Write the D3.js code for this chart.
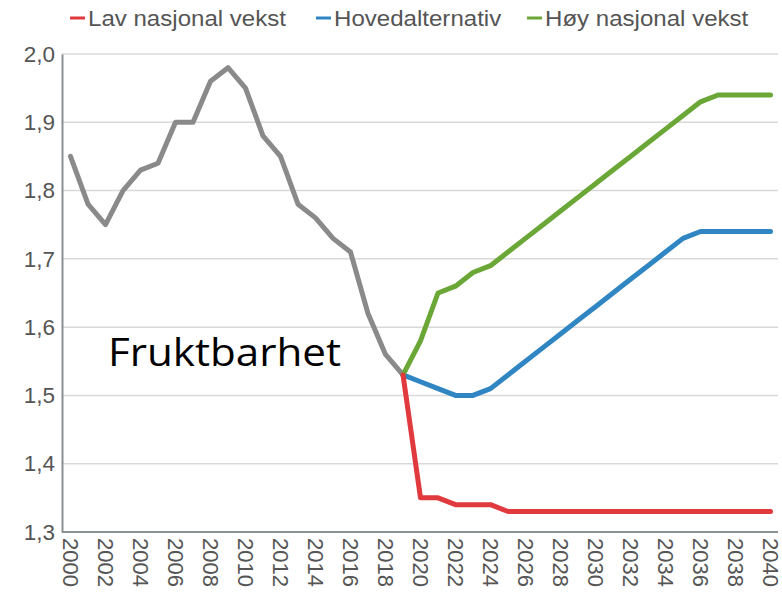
<!DOCTYPE html>
<html><head><meta charset="utf-8">
<script src="https://cdn.jsdelivr.net/npm/d3@7"></script>
<style>body{margin:0;background:#fff}svg{display:block}</style>
</head><body><svg id="c" width="782" height="592"></svg>
<script>
const histYears = d3.range(2000, 2020);
const histValues = [1.85,1.78,1.75,1.80,1.83,1.84,1.90,1.90,1.96,1.98,1.95,1.88,1.85,1.78,1.76,1.73,1.71,1.62,1.56,1.53];
const projYears = d3.range(2019, 2041);
const lowValues  = [1.53,1.35,1.35,1.34,1.34,1.34,1.33,1.33,1.33,1.33,1.33,1.33,1.33,1.33,1.33,1.33,1.33,1.33,1.33,1.33,1.33,1.33];
const mainValues = [1.53,1.52,1.51,1.50,1.50,1.51,1.53,1.55,1.57,1.59,1.61,1.63,1.65,1.67,1.69,1.71,1.73,1.74,1.74,1.74,1.74,1.74];
const highValues = [1.53,1.58,1.65,1.66,1.68,1.69,1.71,1.73,1.75,1.77,1.79,1.81,1.83,1.85,1.87,1.89,1.91,1.93,1.94,1.94,1.94,1.94];
const seriesNames = ["Lav nasjonal vekst","Hovedalternativ","Høy nasjonal vekst"];
const seriesColors = ["#e0393e","#2f86c2","#6aa736"];
const histColor = "#8a8a8a";
const yTicks = [1.3,1.4,1.5,1.6,1.7,1.8,1.9,2.0];
const xTicks = d3.range(2000, 2041, 2);
const annotation = "Fruktbarhet";

const svg = d3.select("#c");
const x = d3.scaleLinear().domain([2000,2040]).range([70.5,770.5]);
const y = d3.scaleLinear().domain([1.3,2.0]).range([532,54]);
const left = 62, right = 778;
const font = "Liberation Sans, Arial, sans-serif";

// gridlines
svg.append("g").selectAll("line").data(yTicks.filter(d=>d>1.3)).join("line")
  .attr("x1", left).attr("x2", right).attr("y1", d=>y(d)).attr("y2", d=>y(d))
  .attr("stroke", "#d9d9d9").attr("stroke-width", 1.5);

// y axis
const yAxis = svg.append("g").attr("transform", `translate(${left},0)`)
  .call(d3.axisLeft(y).tickValues(yTicks).tickSize(0).tickPadding(7).tickFormat(d=>d3.format(".1f")(d).replace(".",",")));
yAxis.select(".domain").attr("stroke","#8a8f92").attr("stroke-width",2);
yAxis.selectAll("text").attr("font-family",font).attr("font-size",22.5).attr("fill","#555");

// x axis
const xAxis = svg.append("g").attr("transform", `translate(0,532)`)
  .call(d3.axisBottom(x).tickValues(xTicks).tickSize(0).tickFormat(d3.format("d")));
xAxis.select(".domain").attr("d", `M${left},0H${right}`).attr("stroke","#8a8f92").attr("stroke-width",2);
xAxis.selectAll("text").attr("font-family",font).attr("font-size",22).attr("fill","#555")
  .attr("transform","rotate(90)").attr("text-anchor","start").attr("dy","0.35em").attr("x",6).attr("y",0);

const line = d3.line().x(d=>x(d[0])).y(d=>y(d[1]));
const addLine = (yrs, vals, color) => svg.append("path")
  .attr("d", line(yrs.map((yr,i)=>[yr, vals[i]])))
  .attr("fill","none").attr("stroke",color).attr("stroke-width",5)
  .attr("stroke-linejoin","round").attr("stroke-linecap","round");

addLine(histYears, histValues, histColor);
addLine(projYears, mainValues, seriesColors[1]);
addLine(projYears, highValues, seriesColors[2]);
addLine(projYears, lowValues, seriesColors[0]);

// annotation
svg.append("text").attr("transform","translate(108,366) scale(1.11,1)")
  .attr("font-family","Open Sans, Noto Sans, sans-serif")
  .attr("font-size",38).attr("fill","#000").text(annotation);

// legend
const legX = [70, 316, 527];
const leg = svg.append("g").selectAll("g").data(seriesNames).join("g")
  .attr("transform",(d,i)=>`translate(${legX[i]},18)`);
leg.append("line").attr("x1",0).attr("x2",15).attr("y1",0).attr("y2",0)
  .attr("stroke",(d,i)=>seriesColors[i]).attr("stroke-width",3);
leg.append("text").attr("transform","translate(18,0) scale(1.12,1)").attr("dy","0.35em")
  .attr("font-family",font).attr("font-size",21.5)
  .attr("fill","#555").text(d=>d);
</script></body></html>
